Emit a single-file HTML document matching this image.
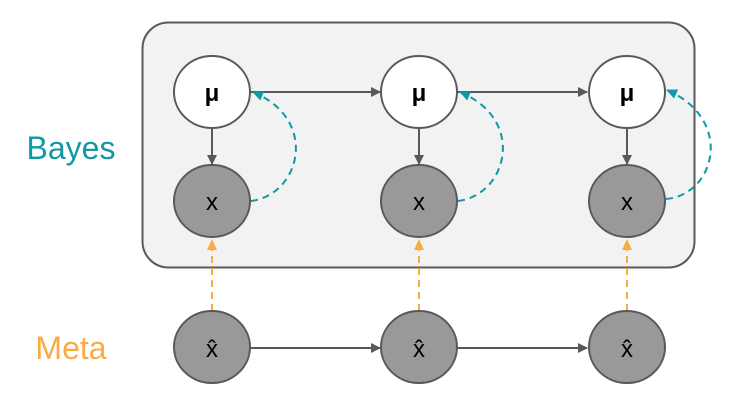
<!DOCTYPE html>
<html><head><style>body{margin:0;background:#fff}svg{display:block}</style></head><body>
<svg width="734" height="401" viewBox="0 0 734 401" xmlns="http://www.w3.org/2000/svg" font-family="Liberation Sans, sans-serif">
<defs>
<marker id="g" markerWidth="10" markerHeight="10" refX="9" refY="5" orient="auto" markerUnits="userSpaceOnUse"><path d="M0,0 L10,5 L0,10 z" fill="#595959"/></marker>
<marker id="t" markerWidth="12" markerHeight="10" refX="10" refY="5" orient="auto" markerUnits="userSpaceOnUse"><path d="M0,0 L11,5 L0,10 z" fill="#0f99a3"/></marker>
<marker id="o" markerWidth="12" markerHeight="10" refX="10" refY="5" orient="auto" markerUnits="userSpaceOnUse"><path d="M0,0 L11,5 L0,10 z" fill="#fbab44"/></marker>
</defs>
<rect x="142.5" y="22.5" width="552" height="245" rx="26" fill="#f2f2f2" stroke="#595959" stroke-width="2"/>
<text x="71" y="159" font-size="32" fill="#0f99a3" text-anchor="middle">Bayes</text>
<text x="71" y="359" font-size="32" fill="#fbab44" text-anchor="middle">Meta</text>
<g stroke="#595959" stroke-width="2" fill="none">
<line x1="250" y1="92" x2="380" y2="92" marker-end="url(#g)"/>
<line x1="457" y1="92" x2="587" y2="92" marker-end="url(#g)"/>
<line x1="250" y1="348" x2="380" y2="348" marker-end="url(#g)"/>
<line x1="457" y1="348" x2="587" y2="348" marker-end="url(#g)"/>
<line x1="212" y1="128" x2="212" y2="164" marker-end="url(#g)"/>
<line x1="419" y1="128" x2="419" y2="164" marker-end="url(#g)"/>
<line x1="627" y1="128" x2="627" y2="164" marker-end="url(#g)"/>
</g>
<g stroke="#fbab44" stroke-width="2" fill="none" stroke-dasharray="7,5">
<line x1="212" y1="311" x2="212" y2="240" marker-end="url(#o)"/>
<line x1="419" y1="311" x2="419" y2="240" marker-end="url(#o)"/>
<line x1="627" y1="311" x2="627" y2="240" marker-end="url(#o)"/>
</g>
<g stroke="#0f99a3" stroke-width="2" fill="none" stroke-dasharray="7,5">
<path d="M251,201 C300,195 320,120 253,92" marker-end="url(#t)"/>
<path d="M458,201 C507,195 527,120 460,92" marker-end="url(#t)"/>
<path d="M666,199 C715,195 735,120 667,90" marker-end="url(#t)"/>
</g>
<g stroke="#595959" stroke-width="2">
<ellipse cx="212" cy="92" rx="38" ry="36" fill="#fff"/>
<ellipse cx="419" cy="92" rx="38" ry="36" fill="#fff"/>
<ellipse cx="627" cy="92" rx="38" ry="36" fill="#fff"/>
<ellipse cx="212" cy="201" rx="38" ry="36" fill="#999"/>
<ellipse cx="419" cy="201" rx="38" ry="36" fill="#999"/>
<ellipse cx="627" cy="201" rx="38" ry="36" fill="#999"/>
<ellipse cx="212" cy="347" rx="38" ry="36" fill="#999"/>
<ellipse cx="419" cy="347" rx="38" ry="36" fill="#999"/>
<ellipse cx="627" cy="347" rx="38" ry="36" fill="#999"/>
</g>
<g font-size="24" text-anchor="middle" fill="#000">
<text x="212" y="101" font-weight="bold">μ</text>
<text x="419" y="101" font-weight="bold">μ</text>
<text x="627" y="101" font-weight="bold">μ</text>
<text x="212" y="210">x</text>
<text x="419" y="210">x</text>
<text x="627" y="210">x</text>
<text x="212" y="357">x̂</text>
<text x="419" y="357">x̂</text>
<text x="627" y="357">x̂</text>
</g>
</svg>
</body></html>
